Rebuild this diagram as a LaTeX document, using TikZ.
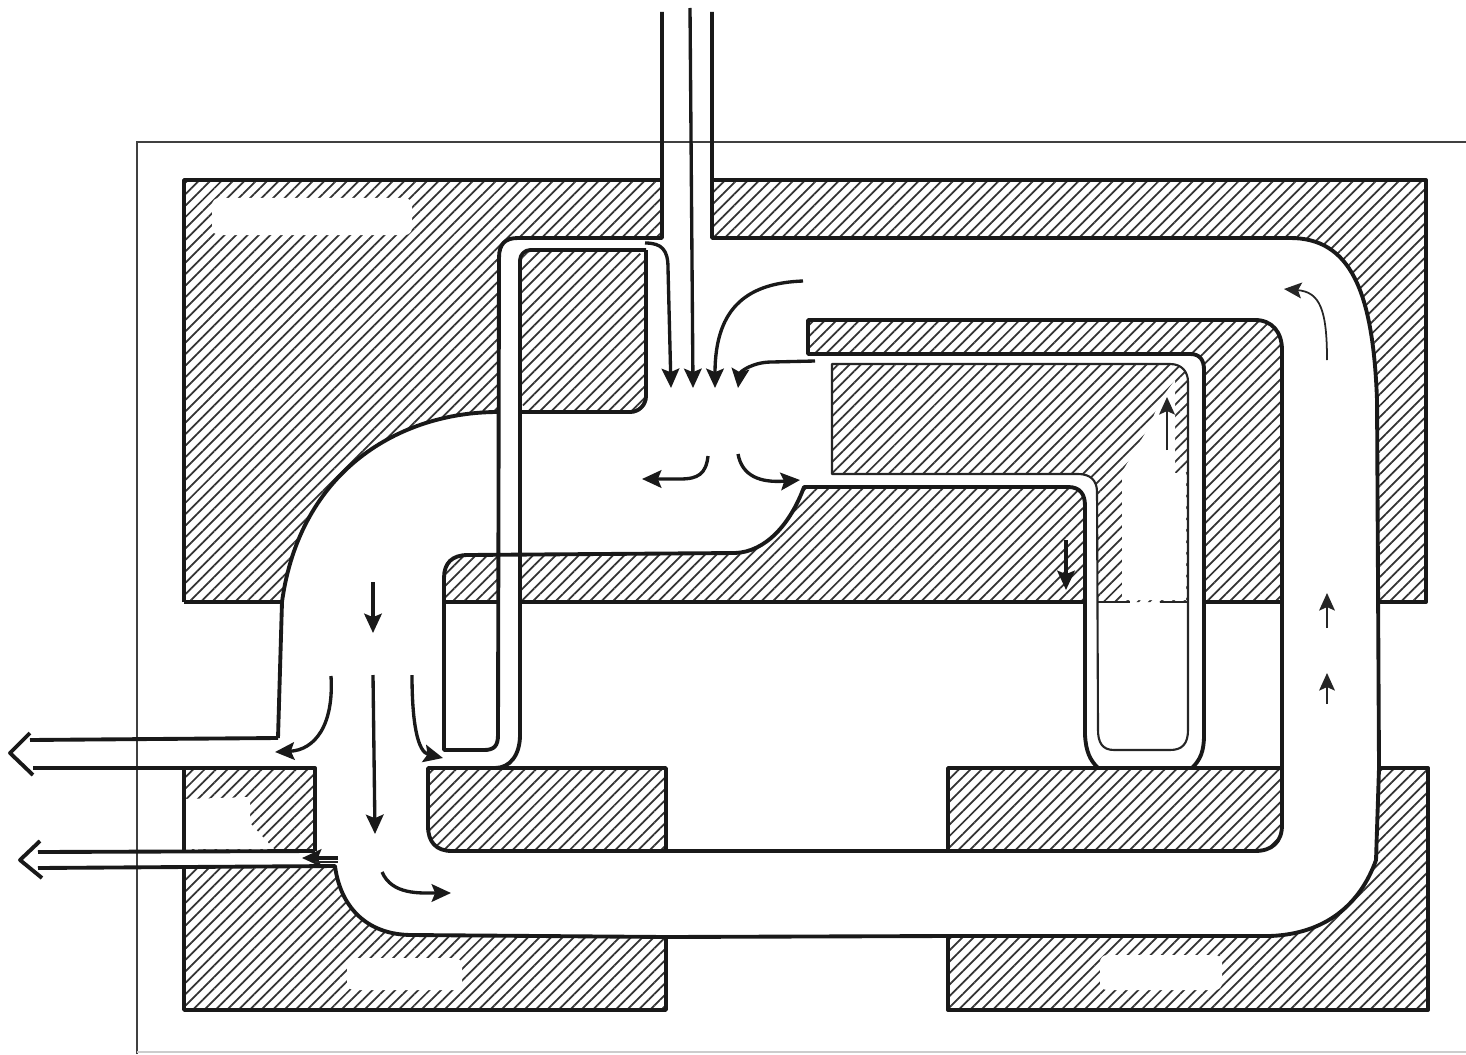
\documentclass[tikz,border=0pt]{standalone}
\usepackage{tikz}
\usetikzlibrary{arrows.meta, patterns.meta}

\begin{document}
\begin{tikzpicture}[
  x=0.02cm, y=-0.02cm,
  hatched/.style={pattern={Lines[angle=45, distance=4.6pt, line width=1pt]}, pattern color=black!80},
  wall/.style={line width=2.2pt, black!90, line join=round},
  thinwall/.style={line width=1.2pt, black!85, line join=round},
  frameline/.style={line width=0.6pt, black!75},
  blank/.style={fill=white, draw=none},
  flow/.style={line width=1.9pt, black!90, -{Stealth[length=11pt, width=10pt, inset=2pt]}},
  lightflow/.style={line width=1pt, black!85, -{Stealth[length=10pt, width=9pt, inset=2pt]}},
]
\useasboundingbox (0,0) rectangle (1466,1054);

% casing frame
\draw[frameline] (137,1054) -- (137,142) -- (1466,142);
\draw[frameline, black!20] (137,1052) -- (1466,1052);

% hatched sections
\path[hatched] (184,180) -- (662,180) -- (662,238) -- (518,238) -- (500,250) -- (498,412)
  .. controls (400,412) and (300,470) .. (282,602) -- (184,602) -- cycle;
\path[hatched, rounded corners=9pt] (520,250) -- (646,250) -- (646,412) -- (520,412) -- cycle;
\path[hatched] (712,180) -- (1426,180) -- (1426,602) -- (1378,602) -- (1377,400)
  .. controls (1373,290) and (1350,238) .. (1290,238) -- (712,238) -- cycle;
\path[hatched] (808,320) -- (1255,320) .. controls (1272,320) and (1282,332) .. (1282,350) -- (1282,602)
  -- (1204,602) -- (1204,370) .. controls (1204,360) and (1200,354) .. (1190,354) -- (808,354) -- cycle;
\path[hatched] (832,364) -- (1170,364) .. controls (1182,364) and (1188,372) .. (1188,382) -- (1188,602)
  -- (1097,602) -- (1097,492) .. controls (1097,480) and (1090,474) .. (1078,474) -- (832,474) -- cycle;
\path[hatched] (444,602) -- (444,578) .. controls (444,563) and (452,555) .. (468,555) -- (735,553)
  .. controls (765,552) and (790,525) .. (804,487) -- (1068,487) .. controls (1080,487) and (1085,494) .. (1085,506)
  -- (1085,602) -- cycle;
\path[hatched] (428,768) -- (666,768) -- (666,851) -- (452,851) .. controls (436,851) and (428,842) .. (428,826) -- cycle;
\path[hatched] (948,768) -- (1282,768) -- (1282,825) .. controls (1282,842) and (1272,851) .. (1255,851) -- (948,851) -- cycle;
\path[hatched] (184,768) -- (315,768) -- (315,851) -- (184,851) -- cycle;
\path[hatched] (184,866) -- (335,866) .. controls (340,905) and (365,935) .. (412,935) -- (666,937) -- (666,1010) -- (184,1010) -- cycle;
\path[hatched] (948,936) -- (1270,936) .. controls (1325,934) and (1360,905) .. (1376,860) -- (1379,768) -- (1428,768) -- (1428,1010) -- (948,1010) -- cycle;

% worn out patches of the hatching
\fill[blank, rounded corners=4pt] (212,198) rectangle (412,235);
\fill[blank, rounded corners=4pt] (347,958) rectangle (462,990);
\fill[blank, rounded corners=4pt] (1100,955) rectangle (1222,990);
\fill[blank] (186,799) -- (250,797) -- (250,823) -- (274,849) -- (186,849) -- cycle;
\fill[blank] (1122,600) -- (1122,472) -- (1150,425) -- (1160,400) -- (1175,380) -- (1175,473) -- (1186,473) -- (1186,600) -- cycle;
\fill[blank] (499,550) rectangle (519,604);

% outer walls
\draw[wall] (278,738) -- (282,602) .. controls (300,470) and (400,412) .. (498,412);
\draw[wall] (184,602) -- (184,180) -- (662,180);
\draw[wall] (184,602) -- (282,602);
\draw[wall] (662,12) -- (662,238) -- (518,238) .. controls (505,238) and (499,244) .. (499,258) -- (498,735)
  .. controls (498,746) and (494,750) .. (484,750) -- (444,750) -- (444,578)
  .. controls (444,563) and (452,555) .. (468,555) -- (735,553)
  .. controls (765,552) and (790,525) .. (804,487) -- (1068,487)
  .. controls (1080,487) and (1085,494) .. (1085,506) -- (1085,735) .. controls (1086,752) and (1090,760) .. (1098,768);
\draw[wall] (712,12) -- (712,238) -- (1290,238) .. controls (1350,238) and (1373,290) .. (1377,400)
  -- (1379,768) -- (1376,860) .. controls (1360,905) and (1325,934) .. (1270,936) -- (948,936) -- (666,937);
\draw[wall] (712,180) -- (1426,180) -- (1426,602) -- (1378,602);
\draw[wall, rounded corners=9pt] (520,412) -- (646,412) -- (646,250);
\draw[wall, rounded corners=6pt] (646,250) -- (520,250) -- (520,735);
\draw[wall] (520,735) .. controls (520,755) and (510,768) .. (495,768);
\draw[wall] (666,851) -- (666,768) -- (428,768) -- (428,826)
  .. controls (428,842) and (436,851) .. (452,851) -- (1255,851)
  .. controls (1272,851) and (1282,842) .. (1282,825) -- (1282,350)
  .. controls (1282,332) and (1272,320) .. (1255,320) -- (808,320) -- (808,354) -- (1190,354)
  .. controls (1200,354) and (1204,360) .. (1204,370) -- (1204,735) .. controls (1204,752) and (1200,760) .. (1192,768);
\draw[wall] (444,602) -- (498,602);
\draw[wall] (520,602) -- (1085,602);
\draw[wall] (1204,602) -- (1282,602);
\draw[wall] (948,851) -- (948,768) -- (1282,768);

% inner wall of the right loop
\draw[thinwall] (832,364) -- (1170,364) .. controls (1182,364) and (1188,372) .. (1188,382) -- (1188,730)
  .. controls (1188,744) and (1182,750) .. (1170,750) -- (1114,750) .. controls (1102,750) and (1098,742) .. (1098,730)
  -- (1097,492) .. controls (1097,480) and (1090,474) .. (1078,474) -- (832,474) -- cycle;
\draw[thinwall, line width=1.6pt] (1097,602) -- (1130,602);
\draw[thinwall, line width=1.6pt] (1160,602) -- (1188,602);

% outlet pipes and lower blocks
\draw[wall] (278,738) -- (30,740);
\draw[wall] (30,733) -- (10,753) -- (33,775);
\draw[wall] (33,768) -- (315,768) -- (315,851);
\draw[wall] (184,768) -- (184,851);
\draw[wall] (38,852) -- (315,851);
\draw[wall] (40,841) -- (20,860) -- (42,878);
\draw[wall] (38,868) -- (335,866) .. controls (340,905) and (365,935) .. (412,935) -- (666,937) -- (666,1010) -- (184,1010) -- (184,866);
\draw[wall] (948,936) -- (948,1010) -- (1428,1010) -- (1428,768) -- (1379,768);

% flow arrows
\draw[flow] (645,243) .. controls (662,243) and (668,250) .. (668,268) -- (671,388);
\draw[flow] (690,8) -- (693,388);
\draw[flow] (803,281) .. controls (750,283) and (715,305) .. (715,388);
\draw[flow] (815,361) -- (772,362) .. controls (752,362) and (740,372) .. (738,388);
\draw[flow] (708,456) .. controls (706,474) and (698,479) .. (680,479) -- (642,479);
\draw[flow] (738,454) .. controls (742,476) and (760,483) .. (800,480);
\draw[flow] (373,582) -- (373,633);
\draw[flow] (373,675) -- (375,834);
\draw[flow] (331,676) .. controls (334,725) and (315,750) .. (275,752);
\draw[flow] (412,675) .. controls (412,725) and (418,752) .. (443,758);
\draw[flow] (382,872) .. controls (392,895) and (420,893) .. (451,893);
\draw[flow] (1066,540) -- (1066,590);
\draw[flow] (338,858) -- (302,858);
\draw[thinwall] (338,862) -- (315,862);
\draw[lightflow] (1327,360) .. controls (1327,310) and (1320,292) .. (1284,289);
\draw[lightflow] (1327,628) -- (1327,593);
\draw[lightflow] (1327,704) -- (1327,673);
\draw[lightflow] (1167,450) -- (1167,397);
\end{tikzpicture}
\end{document}
